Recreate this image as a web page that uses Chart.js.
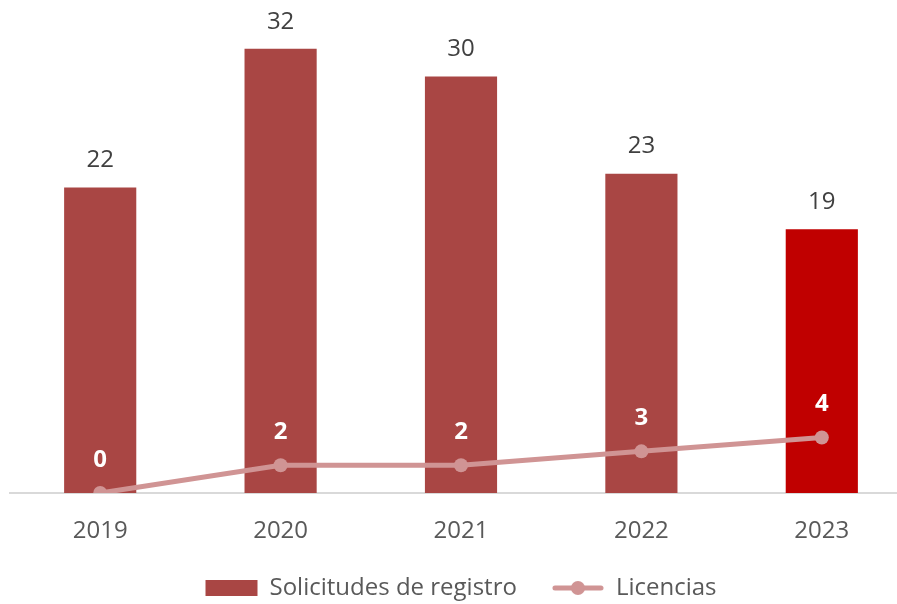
<!DOCTYPE html>
<html>
<head>
<meta charset="utf-8">
<script src="https://cdn.jsdelivr.net/npm/chart.js@4"></script>
<style>
  body { margin: 0; overflow: hidden; background: #fff; }
  #wrap { width: 922px; height: 610px; }
</style>
</head>
<body>
<div id="wrap"><canvas id="chart" width="922" height="610"></canvas></div>
<script>
    // ---------------------------
    // Data
    // ---------------------------
    const years = ["2019", "2020", "2021", "2022", "2023"];
    const solicitudes = [22, 32, 30, 23, 19];
    const licencias = [0, 2, 2, 3, 4];
    const barColors = ["#A94644", "#A94644", "#A94644", "#A94644", "#C00000"];
    const lineColor = "#D09494";
    const fontFamily = "'Open Sans', sans-serif";

    // legend marker for the line series: short line with a dot
    function lineMarker() {
      const c = document.createElement("canvas");
      c.width = 52; c.height = 16;
      const ctx = c.getContext("2d");
      ctx.strokeStyle = lineColor;
      ctx.lineWidth = 5;
      ctx.lineCap = "round";
      ctx.beginPath(); ctx.moveTo(3, 8); ctx.lineTo(49, 8); ctx.stroke();
      ctx.fillStyle = lineColor;
      ctx.beginPath(); ctx.arc(26, 8, 7, 0, Math.PI * 2); ctx.fill();
      return c;
    }

    // ---------------------------
    // Value labels
    // ---------------------------
    const valueLabels = {
      id: "valueLabels",
      afterDatasetsDraw(chart) {
        const ctx = chart.ctx;
        ctx.save();
        ctx.textAlign = "center";
        ctx.textBaseline = "middle";
        chart.getDatasetMeta(0).data.forEach((el, i) => {
          ctx.fillStyle = "#404040";
          ctx.font = "24px " + fontFamily;
          ctx.fillText(solicitudes[i], el.x, el.y - 27);
        });
        chart.getDatasetMeta(1).data.forEach((el, i) => {
          ctx.fillStyle = "#ffffff";
          ctx.font = "bold 24px " + fontFamily;
          ctx.fillText(licencias[i], el.x, el.y - 33);
        });
        ctx.restore();
      }
    };

    new Chart(document.getElementById("chart"), {
      type: "bar",
      data: {
        labels: years,
        datasets: [
          {
            label: "Solicitudes de registro",
            data: solicitudes,
            backgroundColor: barColors,
            categoryPercentage: 1,
            barPercentage: 0.4,
            order: 2
          },
          {
            type: "line",
            label: "Licencias",
            data: licencias,
            borderColor: lineColor,
            backgroundColor: lineColor,
            borderWidth: 5,
            pointRadius: 7,
            pointHoverRadius: 7,
            pointBackgroundColor: lineColor,
            pointBorderWidth: 0,
            order: 1
          }
        ]
      },
      options: {
        responsive: false,
        animation: false,
        layout: { padding: { left: 10, right: 10, top: 6, bottom: 0 } },
        scales: {
          x: {
            grid: { display: false, drawTicks: false },
            border: { display: true, color: "#D9D9D9", width: 2 },
            ticks: { color: "#595959", font: { family: fontFamily, size: 24 }, padding: 24 },
            afterFit(scale) { scale.height = 48; }
          },
          y: { display: false, min: 0, max: 35 }
        },
        plugins: {
          tooltip: { enabled: false },
          legend: {
            position: "bottom",
            labels: {
              usePointStyle: true,
              pointStyleWidth: 52,
              boxHeight: 16,
              padding: 35,
              color: "#595959",
              font: { family: fontFamily, size: 24 },
              generateLabels(chart) {
                const items = Chart.defaults.plugins.legend.labels.generateLabels(chart);
                items.sort((a, b) => a.datasetIndex - b.datasetIndex);
                items[0].pointStyle = "rect";
                items[0].fillStyle = barColors[0];
                items[0].strokeStyle = barColors[0];
                items[0].lineWidth = 0;
                items[1].pointStyle = lineMarker();
                return items;
              }
            }
          }
        }
      },
      plugins: [valueLabels]
    });
</script>
</body>
</html>
